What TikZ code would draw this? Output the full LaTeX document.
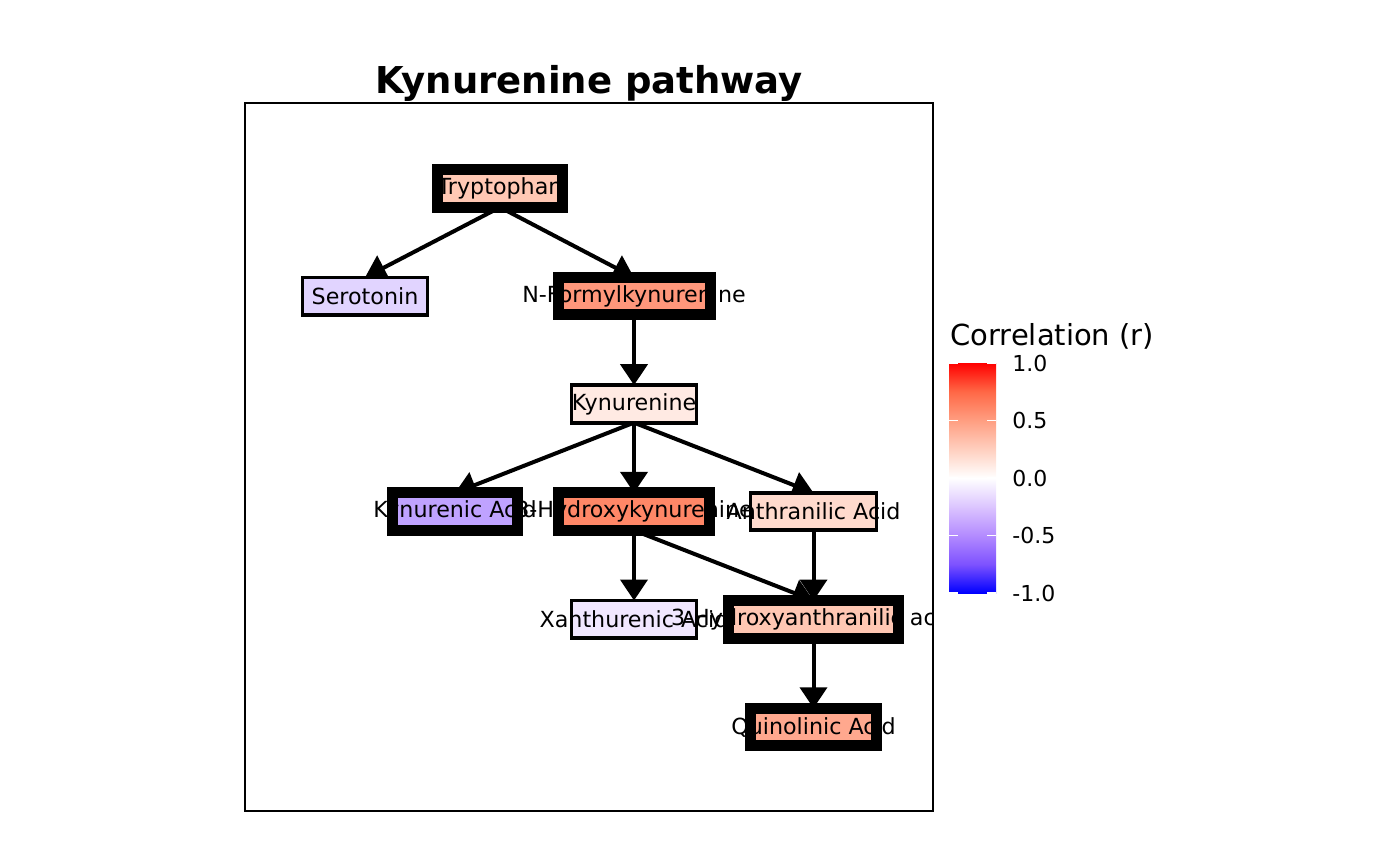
\documentclass[tikz,border=0pt]{standalone}
\usepackage{fontspec}
\setmainfont{DejaVu Sans}
\usepackage{tikz}
\usetikzlibrary{arrows.meta,backgrounds}
\definecolor{kpTrp}{HTML}{FFC8B4}
\definecolor{kpSer}{HTML}{E1D4FF}
\definecolor{kpNfk}{HTML}{FF977B}
\definecolor{kpKyn}{HTML}{FFEAE3}
\definecolor{kpKyna}{HTML}{BFA2FF}
\definecolor{kpHk}{HTML}{FF8767}
\definecolor{kpAa}{HTML}{FFDACD}
\definecolor{kpXa}{HTML}{F1E7FF}
\definecolor{kpHaa}{HTML}{FFC7B3}
\definecolor{kpQa}{HTML}{FFA88E}
\definecolor{kpN1}{HTML}{DCC5FF}
\definecolor{kpN2}{HTML}{B38BFF}
\definecolor{kpN3}{HTML}{7E52FF}
\definecolor{kpP1}{HTML}{FFCFBF}
\definecolor{kpP2}{HTML}{FF9E81}
\definecolor{kpP3}{HTML}{FF6846}
\pgfdeclareverticalshading{kp-bar}{100bp}{color(0bp)=(blue); color(25bp)=(blue);
  color(31.25bp)=(kpN3); color(37.5bp)=(kpN2); color(43.75bp)=(kpN1);
  color(50bp)=(white); color(56.25bp)=(kpP1); color(62.5bp)=(kpP2);
  color(68.75bp)=(kpP3); color(75bp)=(red); color(100bp)=(red)}
\newcommand{\nlab}[1]{\makebox[0pt]{#1}}
\tikzset{
  kp-box/.style={
    draw=black, line width=1.9pt, rectangle, inner sep=0pt, outer sep=0pt,
    minimum width=62.5pt, minimum height=18.75pt,
    font=\fontsize{11.1}{13}\selectfont
  },
  kp-big/.style={kp-box, line width=5.5pt},
  kp-flow/.style={-{Triangle[length=10.5pt,width=13.5pt]}, line width=2pt,
    draw=black},
  kp-title/.style={font=\fontsize{18.5}{22}\selectfont\bfseries},
  kp-legend/.style={font=\fontsize{14.5}{17}\selectfont, anchor=west,
    inner sep=0pt},
  kp-tick/.style={font=\fontsize{11}{13}\selectfont, anchor=west,
    inner sep=0pt}
}
\begin{document}
\begin{tikzpicture}[x=0.5pt, y=-0.5pt]
\useasboundingbox (0,0) rectangle (1400,866);

\begin{scope}
\clip (245,103) rectangle (933,811);
\node[kp-big, fill=kpTrp] (trp) at (500,188.5) {\nlab{Tryptophan}};
\node[kp-box, fill=kpSer] (ser) at (365,296.2) {\nlab{Serotonin}};
\node[kp-big, fill=kpNfk, minimum width=76pt] (nfk) at (634,296.2)
  {\nlab{N-Formylkynurenine}};
\node[kp-box, fill=kpKyn] (kyn) at (634,403.9) {\nlab{Kynurenine}};
\node[kp-big, fill=kpKyna] (kyna) at (455,511.6) {\nlab{Kynurenic Acid}};
\node[kp-big, fill=kpHk, minimum width=75.5pt] (hk) at (634,511.6)
  {\nlab{3-Hydroxykynurenine}};
\node[kp-box, fill=kpAa, minimum width=63pt] (aa) at (813.5,511.6)
  {\nlab{Anthranilic Acid}};
\node[kp-box, fill=kpXa] (xa) at (634,619.3) {\nlab{Xanthurenic Acid}};
\node[kp-big, fill=kpHaa, minimum width=85pt] (haa) at (813.5,619.3)
  {\nlab{3-Hydroxyanthranilic acid}};
\node[kp-big, fill=kpQa, minimum width=63pt] (qa) at (813.5,727)
  {\nlab{Quinolinic Acid}};
\end{scope}

\begin{scope}[on background layer]
\draw[kp-flow] (trp.south) -- (ser.north);
\draw[kp-flow] (trp.south) -- (nfk.north);
\draw[kp-flow] (nfk.south) -- (kyn.north);
\draw[kp-flow] (kyn.south) -- (kyna.north);
\draw[kp-flow] (kyn.south) -- (hk.north);
\draw[kp-flow] (kyn.south) -- (aa.north);
\draw[kp-flow] (hk.south) -- (xa.north);
\draw[kp-flow] (hk.south) -- (haa.north);
\draw[kp-flow] (aa.south) -- (haa.north);
\draw[kp-flow] (haa.south) -- (qa.north);
\end{scope}

% panel and title
\draw[line width=1.1pt] (245,103) rectangle (933,811);
\node[kp-title, anchor=base] (ttl) at (589,94) {Kynurenine pathway};

% colour bar
\node[kp-legend] (leg) at (950,336) {Correlation (r)};
\shade[shading=kp-bar] (949,363) rectangle (996,593);
\foreach \yy/\tl [count=\i] in {363/1.0,420.5/0.5,478/0.0,535.5/-0.5,593/-1.0}{
  \draw[white, line width=0.6pt] (949,\yy) -- (958,\yy) (987,\yy) -- (996,\yy);
  \node[kp-tick] (tk\i) at (1012,\yy) {\tl};
}
\end{tikzpicture}
\end{document}
